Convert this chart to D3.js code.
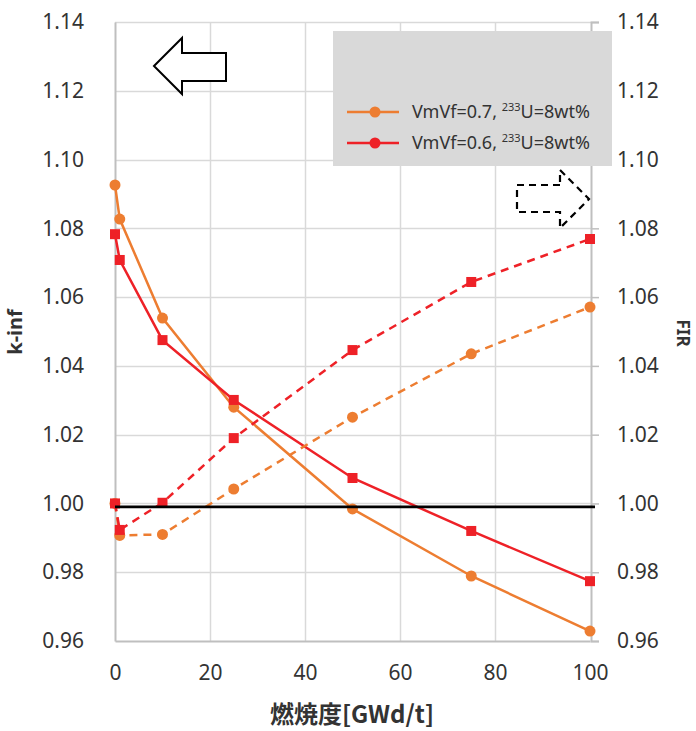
<!DOCTYPE html>
<html>
<head>
<meta charset="utf-8">
<script src="https://cdn.jsdelivr.net/npm/d3@7"></script>
<style>
  html, body { margin: 0; padding: 0; background: #fff; }
  svg { display: block; }
  text { font-family: "Noto Sans", "Noto Sans CJK JP", sans-serif; fill: #333; }
</style>
</head>
<body>
<svg id="chart" width="696" height="731"></svg>
<script>
// Burnup points [GWd/t]
const burnup = [0, 1, 10, 25, 50, 75, 100];

// k-inf (left axis)
const kinf07 = [1.0926, 1.0827, 1.0539, 1.0280, 0.9984, 0.9789, 0.9629];
const kinf06 = [1.0783, 1.0708, 1.0475, 1.0301, 1.0074, 0.9920, 0.9774];

// FIR (right axis)
const fir07 = [1.0000, 0.9907, 0.9910, 1.0042, 1.0251, 1.0435, 1.0571];
const fir06 = [1.0000, 0.9923, 1.0002, 1.0190, 1.0446, 1.0644, 1.0769];

const xTicks = [0, 20, 40, 60, 80, 100];
const yTicks = [0.96, 0.98, 1.00, 1.02, 1.04, 1.06, 1.08, 1.10, 1.12, 1.14];
const criticalLine = 0.999;

const legendLabels = [
  { main: "VmVf=0.7, ", sup: "233", tail: "U=8wt%" },
  { main: "VmVf=0.6, ", sup: "233", tail: "U=8wt%" }
];

const ORANGE = "#ED7D31";
const RED = "#EE2127";

const svg = d3.select("#chart");
const plot = { left: 115, right: 590, top: 22, bottom: 641 };

const x = d3.scaleLinear().domain([0, 100]).range([plot.left, plot.right]);
const yL = d3.scaleLinear().domain([0.96, 1.14]).range([plot.bottom, plot.top]);
const yR = d3.scaleLinear().domain([0.96, 1.14]).range([plot.bottom, plot.top]);

// gridlines
const grid = svg.append("g");
grid.selectAll("line.h").data(yTicks.slice(1)).join("line")
  .attr("x1", plot.left).attr("x2", plot.right + 1)
  .attr("y1", d => Math.round(yL(d)) + 0.5).attr("y2", d => Math.round(yL(d)) + 0.5)
  .attr("stroke", "#D9D9D9").attr("stroke-width", 1.5);
grid.selectAll("line.v").data(xTicks.slice(1, -1)).join("line")
  .attr("y1", plot.top).attr("y2", plot.bottom)
  .attr("x1", d => Math.round(x(d)) + 0.5).attr("x2", d => Math.round(x(d)) + 0.5)
  .attr("stroke", "#D9D9D9").attr("stroke-width", 1.5);

// axes
const fmt = d3.format(".2f");
const axisL = svg.append("g").attr("transform", `translate(${plot.left},0)`)
  .call(d3.axisLeft(yL).tickValues(yTicks).tickFormat(fmt).tickSize(0).tickPadding(31));
const axisR = svg.append("g").attr("transform", `translate(${plot.right + 1},0)`)
  .call(d3.axisRight(yR).tickValues(yTicks).tickFormat(fmt).tickSize(8).tickPadding(18));
const axisB = svg.append("g").attr("transform", `translate(0,${plot.bottom})`)
  .call(d3.axisBottom(x).tickValues(xTicks).tickSize(0).tickPadding(24));

[axisL, axisR, axisB].forEach(a => {
  a.select(".domain").attr("stroke", "#BFBFBF").attr("stroke-width", 2);
  a.selectAll(".tick line").attr("stroke", "#BFBFBF").attr("stroke-width", 1.5);
  a.selectAll("text").attr("font-size", 21).attr("fill", "#333")
    .style("font-family", '"Noto Sans", sans-serif');
});
axisB.selectAll("text").attr("dy", "0.71em");

// series
const lineL = d3.line().x((d, i) => x(burnup[i])).y(d => yL(d));
const lineR = d3.line().x((d, i) => x(burnup[i])).y(d => yR(d));

function drawSeries(values, gen, yScale, color, dashed, marker) {
  const g = svg.append("g");
  g.append("path").datum(values).attr("d", gen)
    .attr("fill", "none").attr("stroke", color).attr("stroke-width", 2.5)
    .attr("stroke-dasharray", dashed ? "8,6" : null);
  if (marker === "circle") {
    g.selectAll("circle").data(values).join("circle")
      .attr("cx", (d, i) => x(burnup[i])).attr("cy", d => yScale(d))
      .attr("r", 5.5).attr("fill", color);
  } else {
    g.selectAll("rect").data(values).join("rect")
      .attr("x", (d, i) => x(burnup[i]) - 5).attr("y", d => yScale(d) - 5)
      .attr("width", 10).attr("height", 10).attr("fill", color);
  }
}

drawSeries(kinf07, lineL, yL, ORANGE, false, "circle");
drawSeries(kinf06, lineL, yL, RED, false, "rect");
drawSeries(fir07, lineR, yR, ORANGE, true, "circle");
drawSeries(fir06, lineR, yR, RED, true, "rect");

// k-inf = 1 reference line
svg.append("line")
  .attr("x1", plot.left).attr("x2", plot.right + 5)
  .attr("y1", yL(criticalLine)).attr("y2", yL(criticalLine))
  .attr("stroke", "#000").attr("stroke-width", 2.8);

// legend
const lg = svg.append("g");
lg.append("rect").attr("x", 333).attr("y", 31).attr("width", 279).attr("height", 135)
  .attr("fill", "#D9D9D9");
const legendColors = [ORANGE, RED];
legendLabels.forEach((lab, i) => {
  const cy = 112 + i * 31;
  lg.append("line").attr("x1", 347).attr("x2", 399).attr("y1", cy).attr("y2", cy)
    .attr("stroke", legendColors[i]).attr("stroke-width", 2.5);
  lg.append("circle").attr("cx", 375).attr("cy", cy).attr("r", 5.5).attr("fill", legendColors[i]);
  const t = lg.append("text").attr("x", 412).attr("y", cy + 6)
    .attr("font-size", 18).attr("fill", "#404040");
  t.append("tspan").text(lab.main);
  t.append("tspan").text(lab.sup).attr("font-size", 11).attr("dy", -7);
  t.append("tspan").text(lab.tail).attr("dy", 7);
});

// direction arrows: k-inf reads on the left axis, FIR on the right
svg.append("path")
  .attr("d", "M154,66 L182,38 L182,53 L226,53 L226,81 L182,81 L182,94 Z")
  .attr("fill", "#fff").attr("stroke", "#000").attr("stroke-width", 2);
svg.append("path")
  .attr("d", "M560,185 L517,185 L517,212 L560,212 L560,228 L589,199 L560,170 Z")
  .attr("fill", "none").attr("stroke", "#000").attr("stroke-width", 2.2)
  .attr("stroke-dasharray", "7,5");

// axis titles
svg.append("text").attr("transform", "translate(22,332) rotate(-90)")
  .attr("text-anchor", "middle").attr("font-size", 20).attr("font-weight", "bold")
  .attr("fill", "#262626").text("k-inf");
svg.append("text").attr("transform", "translate(677,333) rotate(90)")
  .attr("text-anchor", "middle").attr("font-size", 17).attr("font-weight", "bold")
  .attr("fill", "#262626").text("FIR");
svg.append("text").attr("x", 352).attr("y", 723)
  .attr("text-anchor", "middle").attr("font-size", 24).attr("font-weight", "bold")
  .attr("fill", "#262626")
  .style("font-family", '"Noto Sans CJK JP", "Noto Sans", sans-serif')
  .text("燃焼度[GWd/t]");
</script>
</body>
</html>
